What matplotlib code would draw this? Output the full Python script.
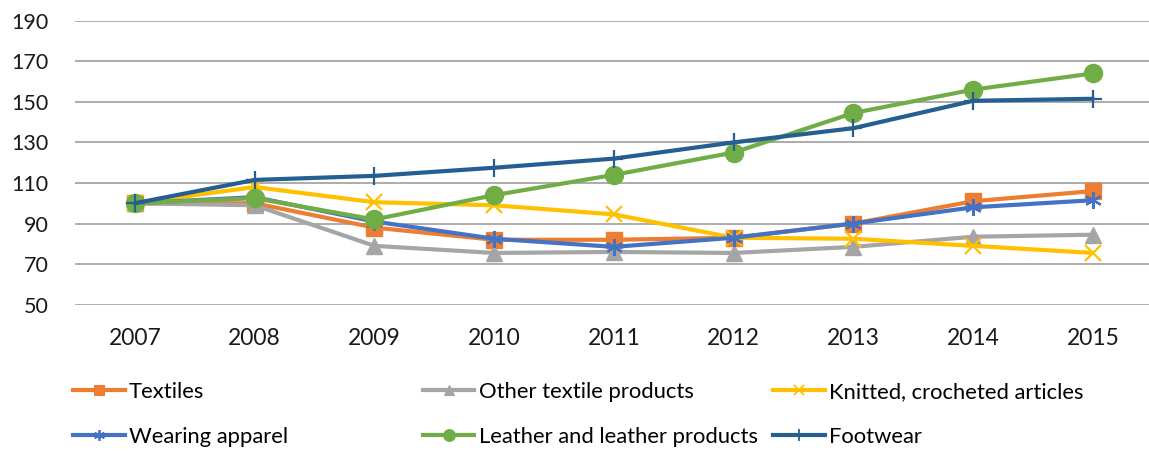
import matplotlib.pyplot as plt
from matplotlib.lines import Line2D

plt.rcParams['font.family'] = ['Lato', 'DejaVu Sans']

years = ['2007', '2008', '2009', '2010', '2011', '2012', '2013', '2014', '2015']

textiles = [100, 100, 88, 82, 82, 83, 90, 101, 106]
other_textile = [100, 99, 79, 75.5, 76, 75.5, 78.5, 83.5, 84.5]
knitted = [100, 108, 100.5, 99, 94.5, 83, 82.5, 79, 75.5]
wearing = [100, 103, 91, 82.5, 78.5, 83, 90, 98, 101.5]
leather = [100, 102.5, 92, 104, 114, 125, 144.5, 156, 164]
footwear = [100, 111.5, 113.5, 117.5, 122, 130, 137, 150.5, 151.5]

yticks = [50, 70, 90, 110, 130, 150, 170, 190]

# name, values, colour, marker, marker size, marker edge width
series = [
    ("Textiles", textiles, "#ED7D31", "s", 12, 1),
    ("Other textile products", other_textile, "#A5A5A5", "^", 12, 1),
    ("Knitted, crocheted articles", knitted, "#FFC000", "x", 11, 1.6),
    ("Wearing apparel", wearing, "#4472C4", (6, 2, 0), 12, 1.6),
    ("Leather and leather products", leather, "#70AD47", "o", 13, 1),
    ("Footwear", footwear, "#255E91", "+", 13, 1.6),
]

fig = plt.figure(figsize=(11.49, 4.51), dpi=100)
ax = fig.add_axes([0.0653, 0.3244, 0.938, 0.6298])

x = list(range(len(years)))
handles = []
for name, vals, col, mk, ms, mew in series:
    ax.plot(x, vals, color=col, lw=3.0, marker=mk, ms=ms,
            mec=col, mfc=col, mew=mew, solid_capstyle='round', zorder=3)
    handles.append(Line2D([], [], color=col, lw=3.0, marker=mk, ms=ms * 0.65,
                          mec=col, mfc=col, mew=mew * 0.8, label=name))

ax.set_xlim(-0.5, len(years) - 0.5)
ax.set_ylim(50, 190)
ax.set_yticks(yticks)
ax.set_xticks(x)
ax.set_xticklabels(years)
ax.grid(axis='y', color='#ABABAB', lw=1.4)
ax.set_axisbelow(True)
for s in ax.spines.values():
    s.set_visible(False)
ax.tick_params(length=0, labelsize=15.5, colors='#1a1a1a')
ax.tick_params(axis='y', pad=19)
ax.tick_params(axis='x', pad=17)
for lbl in ax.get_xticklabels():
    lbl.set_fontsize(16.5)

# legend entries placed on a fixed 3 x 2 grid
col_x = [0.0635, 0.368, 0.673]
row_y = [0.131, 0.031]
for i, h in enumerate(handles):
    fig.legend(handles=[h], loc='center left',
               bbox_to_anchor=(col_x[i % 3], row_y[i // 3]),
               frameon=False, fontsize=15.8, handlelength=2.35,
               handletextpad=0.2, borderaxespad=0, borderpad=0)

fig.savefig('out.png', dpi=100, facecolor='white')
